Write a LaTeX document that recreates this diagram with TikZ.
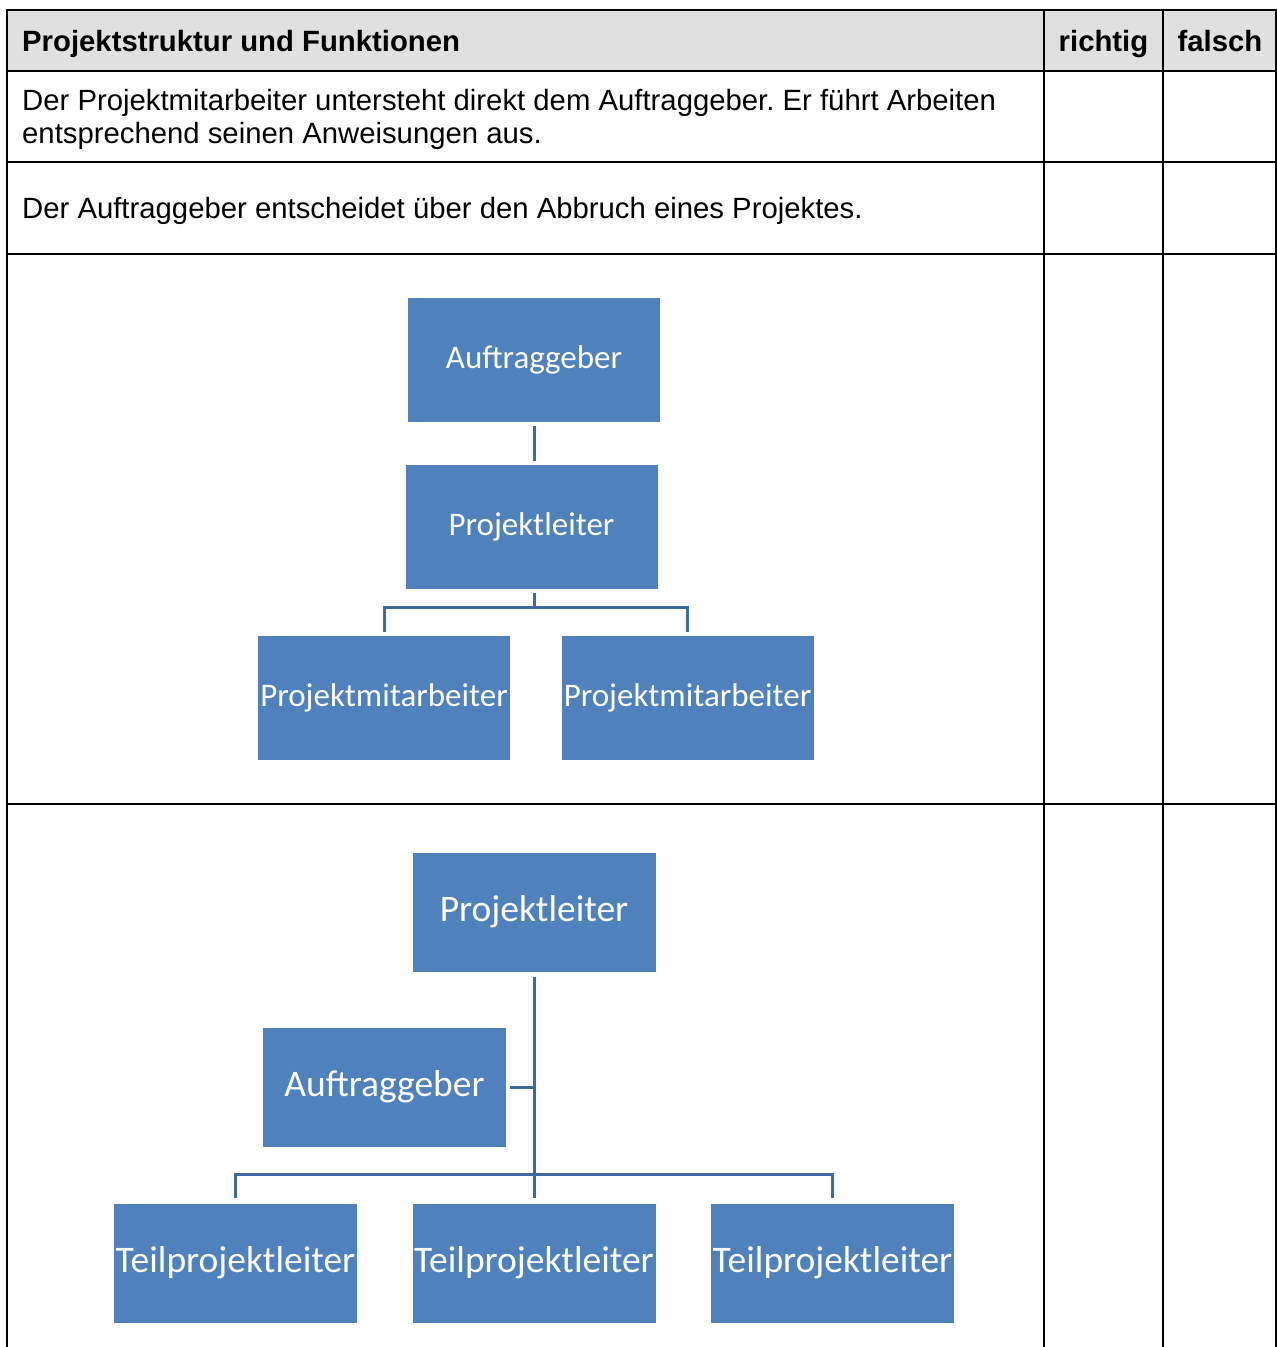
\documentclass[tikz,border=0pt]{standalone}
\usepackage{fontspec}
\setmainfont{Liberation Sans}
\newfontfamily\boxfont{Carlito}
\definecolor{boxblue}{HTML}{4F81BD}
\definecolor{linkblue}{HTML}{3F699D}
\definecolor{headgray}{HTML}{E0E0E0}
\frenchspacing
\begin{document}
\begin{tikzpicture}[x=1pt,y=-1pt,
  grid/.style={line width=2.4pt,black},
  orgbox/.style={fill=boxblue,draw=none,inner sep=0pt,text=white,align=center},
  small/.style={orgbox,minimum width=252pt,minimum height=124pt,font=\boxfont\fontsize{33}{36}\selectfont},
  big/.style={orgbox,minimum width=243pt,minimum height=119pt,font=\boxfont\fontsize{37.5}{40}\selectfont},
  conn/.style={line width=3pt,linkblue},
  celltext/.style={anchor=base west,inner sep=0pt,font=\fontsize{29.3}{33}\selectfont},
  headtext/.style={anchor=base,inner sep=0pt,font=\bfseries\fontsize{29.3}{33}\selectfont}]
\useasboundingbox (0,0) rectangle (1277,1347);
% header background
\fill[headgray] (7,10) rectangle (1277,71);
% table grid
\draw[grid] (7,1350) -- (7,10) -- (1278,10);
\draw[grid] (1276,10) -- (1276,1350);
\draw[grid] (1044,10) -- (1044,1350);
\draw[grid] (1163,10) -- (1163,1350);
\draw[grid] (7,71) -- (1278,71);
\draw[grid] (7,162) -- (1278,162);
\draw[grid] (7,254) -- (1278,254);
\draw[grid] (7,804) -- (1278,804);
% texts
\node[celltext,font=\bfseries\fontsize{29.3}{33}\selectfont] (h1) at (22,51) {Projektstruktur und Funktionen};
\node[headtext] (h2) at (1103.5,51) {richtig};
\node[headtext] (h3) at (1220,51) {falsch};
\node[celltext] (r1a) at (22,110) {Der Projektmitarbeiter untersteht direkt dem Auftraggeber. Er führt Arbeiten};
\node[celltext] (r1b) at (22,143) {entsprechend seinen Anweisungen aus.};
\node[celltext] (r2) at (22,218) {Der Auftraggeber entscheidet über den Abbruch eines Projektes.};
% diagram 1
\node[small] (a1) at (534,360) {Auftraggeber};
\node[small] (p1) at (531.5,527) {Projektleiter};
\node[small] (m1) at (384,698) {Projektmitarbeiter};
\node[small] (m2) at (687.5,698) {Projektmitarbeiter};
\draw[conn] ([yshift=-4]a1.south -| 534,0) -- ([yshift=4]p1.north -| 534,0);
\draw[conn] (p1.south -| 534,0) ++(0,4) -- ++(0,14) coordinate (fork1) -| ([yshift=4]m1.north);
\draw[conn] (fork1) -| ([yshift=4]m2.north);
% diagram 2
\node[big] (p2) at (534,912) {Projektleiter};
\node[big] (a2) at (384.5,1087) {Auftraggeber};
\node[big] (t1) at (235.5,1263) {Teilprojektleiter};
\node[big] (t2) at (534,1263) {Teilprojektleiter};
\node[big] (t3) at (832.5,1263) {Teilprojektleiter};
\draw[conn] ([yshift=-5]p2.south) -- ([yshift=5]t2.north);
\draw[conn] ([xshift=4]a2.east) -- (a2.east -| p2.south);
\draw[conn] ([yshift=5]t1.north) -- ++(0,-24) -| ([yshift=5]t3.north);
\end{tikzpicture}
\end{document}
